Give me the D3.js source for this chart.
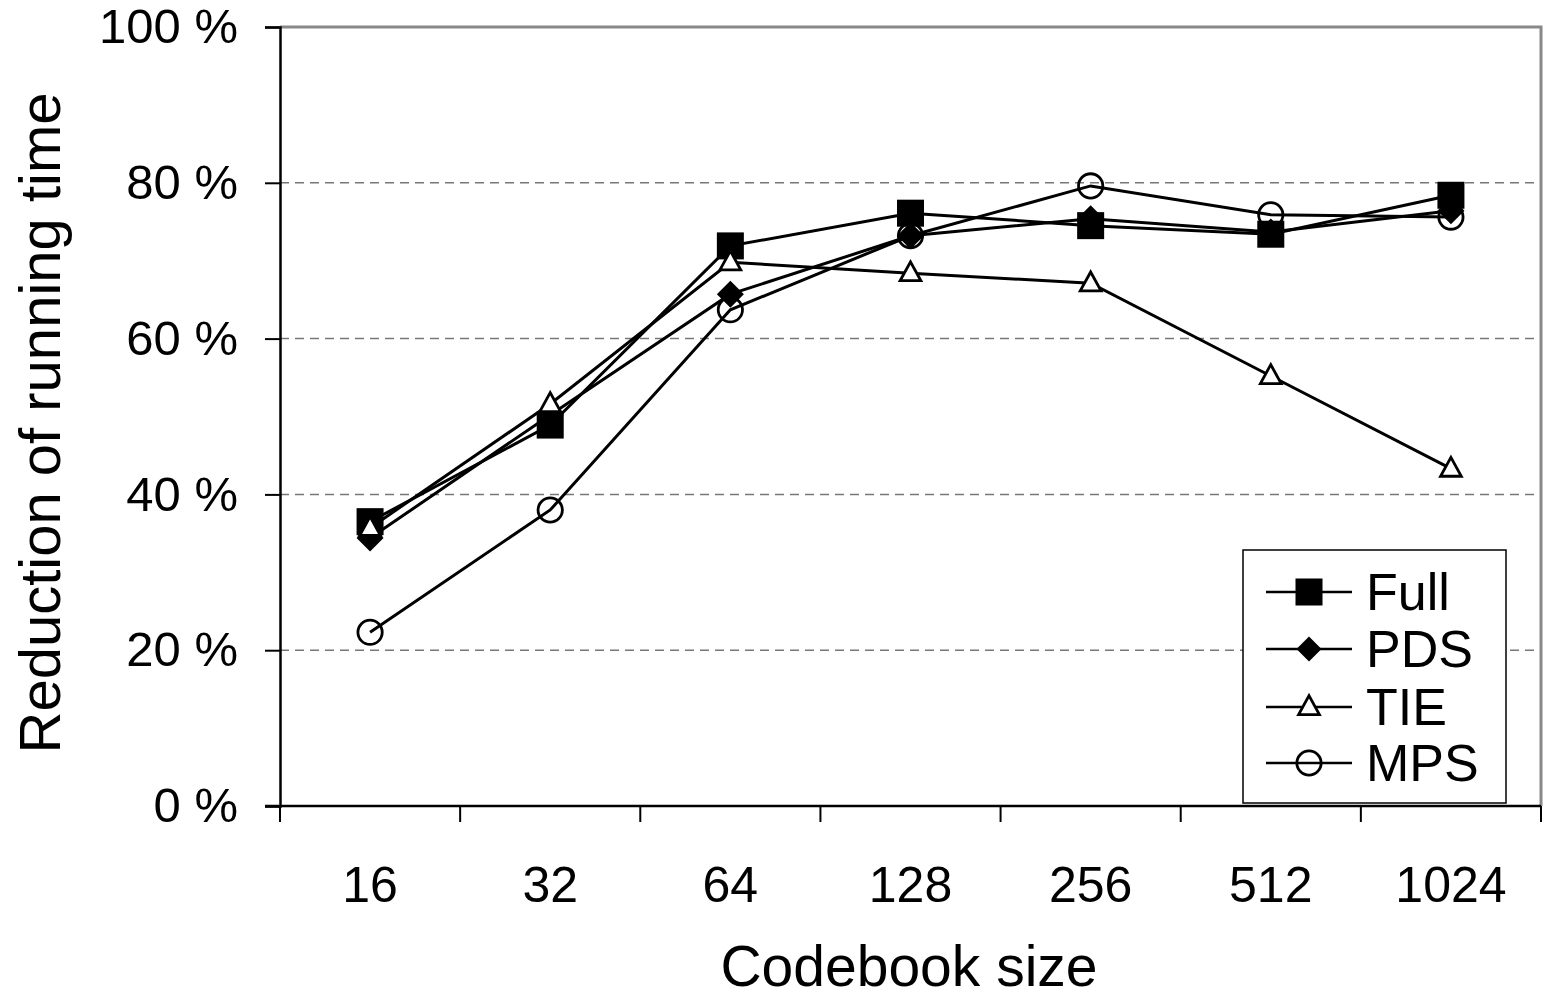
<!DOCTYPE html>
<html>
<head>
<meta charset="utf-8">
<script src="https://cdn.jsdelivr.net/npm/d3@7"></script>
<style>
  body { margin: 0; background: #fff; }
  text { font-family: "Liberation Sans", Arial, sans-serif; fill: #000; }
</style>
</head>
<body>
<div id="chart"></div>
<script>
// Chart data
const sizes = ['16', '32', '64', '128', '256', '512', '1024']
const full = [36.5, 48.9, 71.9, 76.1, 74.5, 73.4, 78.4]
const pds = [34.4, 50.2, 65.7, 73.2, 75.4, 73.7, 76.4]
const tie = [35.7, 51.6, 69.8, 68.4, 67.1, 55.2, 43.3]
const mps = [22.3, 38.0, 63.7, 73.2, 79.6, 75.9, 75.6]
const yTicks = [0, 20, 40, 60, 80, 100]

const seriesNames = ['Full', 'PDS', 'TIE', 'MPS']
const seriesValues = [full, pds, tie, mps]
const seriesShapes = ['square', 'diamond', 'triangle', 'circle']

const width = 1543,
      height = 1000,
      plotLeft = 280, plotRight = 1541,
      plotTop = 27, plotBottom = 806

let svg = d3.select('#chart')
  .append('svg')
  .attr('width', width)
  .attr('height', height)

let x = d3.scaleBand()
  .domain(sizes)
  .range([plotLeft, plotRight])

let y = d3.scaleLinear()
  .domain([0, 100])
  .range([plotBottom, plotTop])

// grid lines
svg.append('g')
  .selectAll('line')
  .data(yTicks.filter(d => d > 0 && d < 100))
  .enter()
  .append('line')
  .attr('x1', plotLeft).attr('x2', plotRight)
  .attr('y1', d => y(d)).attr('y2', d => y(d))
  .attr('stroke', '#777')
  .attr('stroke-width', 1.5)
  .attr('stroke-dasharray', '9,6')

// frame top / right
svg.append('path')
  .attr('d', `M${plotLeft},${plotTop}H${plotRight}V${plotBottom}`)
  .attr('fill', 'none')
  .attr('stroke', '#888')
  .attr('stroke-width', 3)

// y axis
let yAxis = svg.append('g')
  .attr('transform', `translate(${plotLeft},0)`)
  .call(d3.axisLeft(y)
    .tickValues(yTicks)
    .tickSize(15)
    .tickPadding(27)
    .tickFormat(d => d + ' %'))
yAxis.select('.domain').attr('stroke', '#000').attr('stroke-width', 2.5)
yAxis.selectAll('.tick line').attr('stroke', '#000').attr('stroke-width', 2)
yAxis.selectAll('.tick text')
  .style('font-size', '49px')
  .style('font-family', '"Liberation Sans", Arial, sans-serif')
  .attr('fill', '#000')

// x axis
let xAxis = svg.append('g')
  .attr('transform', `translate(0,${plotBottom})`)
  .call(d3.axisBottom(x).tickSizeOuter(0).tickSize(0).tickPadding(60))
xAxis.select('.domain').attr('stroke', '#000').attr('stroke-width', 2.5)
  .attr('d', `M${plotLeft - 15},0H${plotRight}`)
xAxis.selectAll('.tick text')
  .style('font-size', '50px')
  .style('font-family', '"Liberation Sans", Arial, sans-serif')
  .attr('fill', '#000')
xAxis.selectAll('.sep')
  .data(d3.range(sizes.length + 1))
  .enter()
  .append('line')
  .attr('x1', i => plotLeft + i * x.bandwidth())
  .attr('x2', i => plotLeft + i * x.bandwidth())
  .attr('y1', 0).attr('y2', 16)
  .attr('stroke', '#000')
  .attr('stroke-width', 2)

// axis titles
svg.append('text')
  .attr('x', 909)
  .attr('y', 986)
  .attr('text-anchor', 'middle')
  .style('font-size', '57px')
  .text('Codebook size')

svg.append('text')
  .attr('transform', `translate(60,423) rotate(-90)`)
  .attr('text-anchor', 'middle')
  .style('font-size', '58px')
  .text('Reduction of running time')

// marker helper
let marker = (g, shape, cx, cy, s) => {
  if (shape === 'square') {
    g.append('rect')
      .attr('x', cx - s / 2).attr('y', cy - s / 2)
      .attr('width', s).attr('height', s)
      .attr('fill', '#000')
  } else if (shape === 'diamond') {
    let r = s * 0.5
    g.append('path')
      .attr('d', `M${cx},${cy - r}L${cx + r},${cy}L${cx},${cy + r}L${cx - r},${cy}Z`)
      .attr('fill', '#000')
  } else if (shape === 'triangle') {
    let h = s * 0.7
    g.append('path')
      .attr('d', `M${cx},${cy - h * 0.6}L${cx + h * 0.55},${cy + h * 0.4}L${cx - h * 0.55},${cy + h * 0.4}Z`)
      .attr('fill', '#fff')
      .attr('stroke', '#000')
      .attr('stroke-width', 2.8)
  } else {
    g.append('circle')
      .attr('cx', cx).attr('cy', cy).attr('r', s * 0.45)
      .attr('fill', 'none')
      .attr('stroke', '#000')
      .attr('stroke-width', 2.8)
  }
}

let line = d3.line()
  .x((d, i) => x(sizes[i]) + x.bandwidth() / 2)
  .y(d => y(d))

seriesValues.forEach((vals, k) => {
  let g = svg.append('g')
  g.append('path')
    .datum(vals)
    .attr('d', line)
    .attr('fill', 'none')
    .attr('stroke', '#000')
    .attr('stroke-width', 3)
  vals.forEach((v, i) => {
    marker(g, seriesShapes[k], x(sizes[i]) + x.bandwidth() / 2, y(v), 27)
  })
})

// legend
let leg = svg.append('g')
leg.append('rect')
  .attr('x', 1243).attr('y', 550)
  .attr('width', 263).attr('height', 253)
  .attr('fill', '#fff')
  .attr('stroke', '#000')
  .attr('stroke-width', 1.5)

const legY = [592, 649, 707, 763]
const legSize = [27, 25, 27, 27]
seriesNames.forEach((name, k) => {
  let ly = legY[k]
  leg.append('line')
    .attr('x1', 1266).attr('x2', 1352)
    .attr('y1', ly).attr('y2', ly)
    .attr('stroke', '#000')
    .attr('stroke-width', 2.5)
  marker(leg, seriesShapes[k], 1309, ly, legSize[k])
  leg.append('text')
    .attr('x', 1366)
    .attr('y', ly + 18)
    .style('font-size', '52px')
    .text(name)
})
</script>
</body>
</html>
